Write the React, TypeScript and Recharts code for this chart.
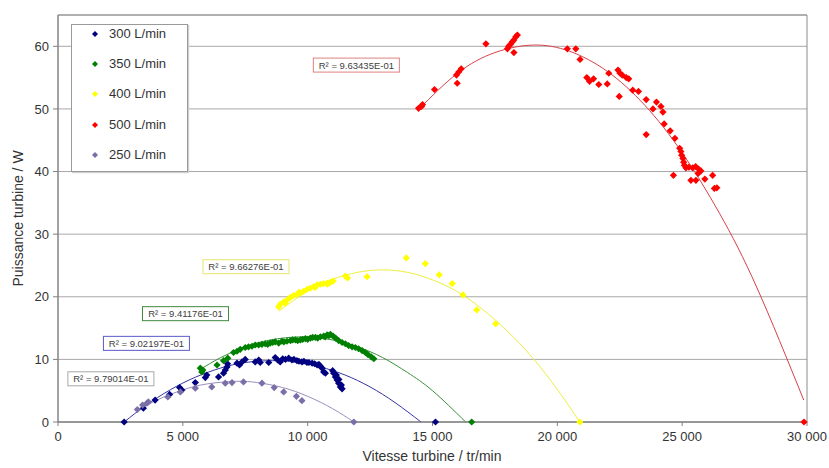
import React from 'react';
import { ComposedChart, Scatter, Line, XAxis, YAxis, CartesianGrid, Legend, ReferenceArea } from 'recharts';

const FONT = '"Liberation Sans", Arial, sans-serif';

const xTicks = [0, 5000, 10000, 15000, 20000, 25000, 30000];
const yTicks = [0, 10, 20, 30, 40, 50, 60];

type P = { x: number; y: number };
const pts = (a: number[][]): P[] => a.map(([x, y]) => ({ x, y }));

// 300 L/min
const s300 = pts([
  [2650, 0], [3420, 2.2], [3890, 3.5], [4470, 4.4], [4870, 5.5], [4960, 5.1], [5500, 6.3], [5900, 7.1],
  [5960, 7.5], [6430, 7.2], [6630, 7.8], [6700, 8.3], [6770, 8.8], [6790, 9.3], [7170, 9.4], [7270, 9.1],
  [7370, 9.6], [7500, 10.0], [7900, 9.6], [8040, 9.9], [8100, 9.5], [8440, 9.5], [8700, 10.3], [8800, 9.9],
  [8900, 9.6], [9000, 10.1], [9110, 10.0], [9240, 10.2], [9370, 9.9], [9450, 10.0], [9570, 9.8], [9650, 9.7],
  [9770, 9.6], [9850, 9.7], [9970, 9.5], [10050, 9.5], [10180, 9.4], [10280, 9.3], [10380, 9.1], [10450, 9.2],
  [10510, 8.9], [10580, 8.6], [10640, 8.0], [10710, 7.8], [11000, 8.2], [11040, 7.8], [11110, 7.2], [11150, 7.5],
  [11180, 6.7], [11240, 6.2], [11250, 6.8], [11310, 5.6], [11350, 5.9], [11380, 5.3], [15120, 0],
]);
// 350 L/min
const s350 = pts([
  [5700, 8.6], [5760, 8.0], [5800, 8.3], [6370, 9.1], [6630, 9.8], [6800, 10.2], [7030, 11.1], [7170, 11.3],
  [7300, 11.6], [7500, 11.9], [7630, 12.0], [7770, 12.1], [7900, 12.3], [8040, 12.3], [8170, 12.4], [8300, 12.5],
  [8400, 12.4], [8500, 12.6], [8600, 12.7], [8700, 12.8], [8840, 12.6], [8970, 12.9], [9050, 12.8], [9170, 12.9],
  [9310, 13.0], [9400, 13.1], [9510, 13.1], [9600, 13.0], [9710, 13.1], [9800, 13.2], [9910, 13.3], [10000, 13.2],
  [10110, 13.4], [10200, 13.5], [10310, 13.5], [10400, 13.4], [10510, 13.6], [10640, 13.7], [10700, 13.6],
  [10780, 13.9], [10850, 13.8], [10910, 14.0], [11020, 13.7], [11120, 13.4], [11240, 13.0], [11380, 12.7],
  [11510, 12.5], [11640, 12.2], [11780, 12.0], [11910, 11.9], [12040, 11.7], [12180, 11.4], [12310, 11.1],
  [12410, 10.8], [12550, 10.4], [12650, 10.1], [16570, 0],
]);
// 400 L/min
const s400 = pts([
  [8840, 18.4], [8900, 18.8], [9040, 19.2], [9100, 19.0], [9170, 19.5], [9310, 19.9], [9440, 20.2], [9570, 20.4],
  [9650, 20.7], [9710, 20.6], [9840, 20.9], [9980, 21.2], [10110, 21.4], [10240, 21.6], [10300, 21.5],
  [10380, 21.9], [10510, 22.0], [10640, 22.1], [10780, 22.2], [10800, 22.0], [10910, 22.3], [11020, 22.5],
  [11510, 23.3], [11600, 23.0], [12380, 23.2], [13950, 26.2], [14710, 25.3], [15270, 23.5], [15790, 22.1],
  [16220, 20.3], [16770, 17.9], [17530, 15.7], [20900, 0],
]);
// 500 L/min
const s500 = pts([
  [14440, 50.1], [14560, 50.4], [14600, 50.7], [15080, 53.1], [15990, 54.1], [15960, 55.4], [16050, 55.9],
  [16150, 56.4], [17140, 60.4], [18000, 59.6], [18050, 60.0], [18120, 60.3], [18190, 60.7], [18260, 61.0],
  [18330, 61.5], [18400, 61.8], [18260, 59.0], [20400, 59.6], [20740, 59.6], [20910, 57.9], [21180, 55.0],
  [21290, 54.4], [21450, 54.8], [21660, 53.9], [22000, 54.0], [22060, 55.7], [22430, 56.2], [22510, 55.7],
  [22600, 55.4], [22760, 55.0], [22860, 54.8], [22480, 52.0], [23020, 53.0], [23250, 52.8], [23560, 51.5],
  [23830, 50.0], [23970, 51.1], [24150, 50.4], [24230, 49.5], [23560, 45.9], [24280, 47.6], [24520, 46.5],
  [24710, 45.3], [24900, 43.7], [24950, 43.2], [24980, 42.6], [25030, 42.1], [25060, 41.5], [25090, 41.0],
  [25150, 40.6], [25270, 40.7], [25420, 40.6], [25540, 40.8], [25660, 40.4], [25750, 40.1], [25640, 39.7],
  [24650, 39.4], [25350, 38.6], [25550, 38.6], [25910, 38.8], [26220, 39.4], [26290, 37.3], [26390, 37.4],
  [29880, 0],
]);
// 250 L/min
const s250 = pts([
  [3180, 2.0], [3390, 2.7], [3560, 3.0], [3620, 3.2], [4400, 4.0], [4900, 4.8], [5500, 5.4], [6160, 5.6],
  [6700, 6.2], [6970, 6.3], [7430, 6.4], [8170, 6.2], [8660, 5.5], [9040, 4.8], [9550, 4.1], [9770, 3.4],
  [11850, 0],
]);

// trend lines
const t300 = pts([[2650, 0], [3500, 2.6], [4500, 5.15], [5500, 7.15], [6500, 8.6], [7500, 9.5], [8595, 9.8], [9500, 9.6], [10500, 8.8], [11500, 7.5], [12500, 5.6], [13500, 3.1], [14540, 0]]);
const t350 = pts([[5700, 8.4], [6500, 10.25], [7500, 12.0], [8500, 13.1], [9762, 13.6], [11000, 13.1], [12000, 12.0], [13000, 10.3], [14000, 7.9], [15000, 5.0], [16330, 0]]);
const t400 = pts([[8840, 17.7], [10000, 20.9], [11000, 22.8], [12000, 23.9], [12980, 24.3], [14000, 23.9], [15000, 22.7], [16000, 20.8], [17000, 18.0], [18000, 14.5], [19000, 10.3], [20000, 5.2], [20900, 0]]);
const t500 = pts([[14440, 49.9], [16000, 55.7], [17500, 59.0], [19050, 60.2], [20500, 59.2], [22000, 56.0], [23500, 50.6], [25000, 43.0], [26500, 33.3], [28000, 21.4], [29870, 3.5]]);
const t250 = pts([[3160, 1.8], [4000, 3.57], [5000, 5.13], [6000, 6.1], [7153, 6.5], [8000, 6.29], [9000, 5.5], [10000, 4.1], [11000, 2.13], [11850, 0]]);

const seriesNames = ['300 L/min', '350 L/min', '400 L/min', '500 L/min', '250 L/min'];
const seriesColors = ['#000080', '#008000', '#FFFF00', '#FF0000', '#7B6FA8'];
const trendColors = ['#3535a5', '#3a8f3a', '#eeee40', '#d8404a', '#9a8fbf'];

const rLabels = [
  { x: 11950, y: 57.0, text: 'R² = 9.63435E-01' },
  { x: 7530, y: 24.8, text: 'R² = 9.66276E-01' },
  { x: 5106, y: 17.3, text: 'R² = 9.41176E-01' },
  { x: 3542, y: 12.56, text: 'R² = 9.02197E-01' },
  { x: 2118, y: 6.9, text: 'R² = 9.79014E-01' },
];
const rLabelBorders = ['#e08080', '#e6e670', '#3f8a3f', '#5a5ac8', '#a8a8a8'];

const fmt = (v: number) => (v >= 1000 ? `${Math.floor(v / 1000)} ${String(v % 1000).padStart(3, '0')}` : String(v));

const diamond = (color: string, h: number) => (props: any) => {
  const { cx, cy } = props;
  if (cx == null || cy == null) return <g />;
  return <path d={`M${cx},${cy - h}L${cx + h},${cy}L${cx},${cy + h}L${cx - h},${cy}Z`} fill={color} />;
};

const RLabel = (props: any) => {
  const { cx, cy, index } = props;
  const lbl = rLabels[index];
  if (!lbl) return <g />;
  return (
    <g>
      <rect x={cx - 43} y={cy - 7} width={86} height={14} fill="#fff" stroke={rLabelBorders[index]} strokeWidth={1} />
      <text x={cx} y={cy + 3.5} textAnchor="middle" fontSize={9.5} fill="#404040" fontFamily={FONT}>
        {lbl.text}
      </text>
    </g>
  );
};

const LegendBox = () => (
  <div
    style={{
      width: 117,
      height: 148,
      border: '1px solid #9a9a9a',
      boxShadow: '1px 1px 1px #d0d0d0',
      background: '#fff',
      boxSizing: 'border-box',
      position: 'relative',
      fontFamily: FONT,
      fontSize: 13,
      color: '#333',
    }}
  >
    {seriesNames.map((n, i) => (
      <div key={n} style={{ position: 'absolute', left: 0, top: 9 + i * 30.2 - 8, height: 16, width: 115 }}>
        <svg width={12} height={16} style={{ position: 'absolute', left: 17, top: 0 }}>
          <path d="M6,5 L9,8 L6,11 L3,8 Z" fill={seriesColors[i]} />
        </svg>
        <span style={{ position: 'absolute', left: 37, top: 0, lineHeight: '16px', whiteSpace: 'nowrap' }}>{n}</span>
      </div>
    ))}
  </div>
);

const YTitle = () => {
  const cy = 218.5;
  return (
    <text x={18} y={cy} transform={`rotate(-90, 18, ${cy})`} textAnchor="middle" dominantBaseline="central" fontSize={14} fill="#333" fontFamily={FONT}>
      Puissance turbine / W
    </text>
  );
};

const XTitle = () => (
  <text x={432} y={456} textAnchor="middle" dominantBaseline="central" fontSize={14} fill="#333" fontFamily={FONT}>
    Vitesse turbine / tr/min
  </text>
);

const series = [s300, s350, s400, s500, s250];
const trends = [t300, t350, t400, t500, t250];

export default function App() {
  return (
    <div style={{ position: 'absolute', left: 0, top: 0, fontFamily: FONT, background: '#fff' }}>
      <ComposedChart width={829} height={468} margin={{ top: 15, right: 22, bottom: 0, left: 0 }}>
        <CartesianGrid vertical={false} stroke="#a8a8a8" />
        <XAxis
          type="number"
          dataKey="x"
          domain={[0, 30000]}
          ticks={xTicks}
          tickFormatter={fmt}
          height={46}
          stroke="#808080"
          tickSize={4}
          tickMargin={6}
          tick={{ fill: '#333', fontSize: 13, fontFamily: FONT }}
          label={<XTitle />}
        />
        <YAxis
          type="number"
          dataKey="y"
          domain={[0, 65]}
          ticks={yTicks}
          width={58}
          stroke="#808080"
          tickSize={5}
          tickMargin={4}
          tick={{ fill: '#333', fontSize: 13, fontFamily: FONT }}
          label={<YTitle />}
        />
        <ReferenceArea x1={0} x2={30000} y1={0} y2={65} fill="none" stroke="#8c8c8c" strokeWidth={1} ifOverflow="visible" />
        {trends.map((t, i) => (
          <Line
            key={'t' + i}
            data={t}
            dataKey="y"
            type="natural"
            stroke={trendColors[i]}
            strokeWidth={1}
            dot={false}
            activeDot={false}
            isAnimationActive={false}
            legendType="none"
          />
        ))}
        {series.map((s, i) => (
          <Scatter
            key={'s' + i}
            name={seriesNames[i]}
            data={s}
            fill={seriesColors[i]}
            shape={diamond(seriesColors[i], 3.6)}
            isAnimationActive={false}
          />
        ))}
        <Scatter data={rLabels} shape={RLabel} isAnimationActive={false} legendType="none" />
        <Legend
          layout="vertical"
          align="center"
          verticalAlign="middle"
          content={<LegendBox />}
          wrapperStyle={{ left: 71, top: 24, width: 117, height: 148 }}
        />
      </ComposedChart>
    </div>
  );
}
